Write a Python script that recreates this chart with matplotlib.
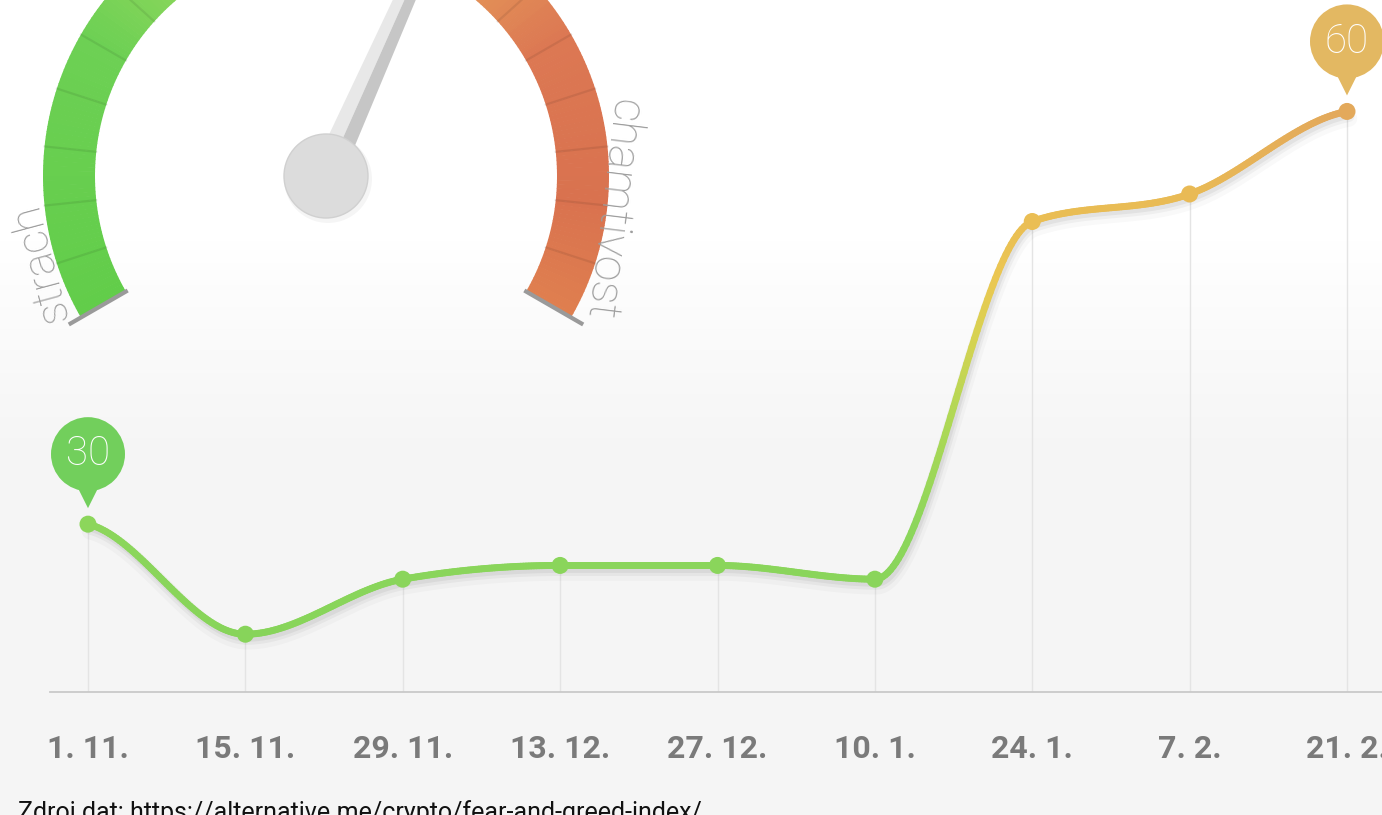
import numpy as np
import matplotlib
matplotlib.use("Agg")
import matplotlib.pyplot as plt
from matplotlib.collections import LineCollection, PolyCollection
from matplotlib.colors import LinearSegmentedColormap, Normalize
import matplotlib.transforms as mtransforms
from matplotlib.patches import Circle, Polygon

# ---------------- data ----------------
dates = ["1. 11.", "15. 11.", "29. 11.", "13. 12.", "27. 12.",
         "10. 1.", "24. 1.", "7. 2.", "21. 2."]
values = [30, 22, 26, 27, 27, 26, 52, 54, 60]
bubble_points = [0, 8]
gauge_left_label = "strach"
gauge_right_label = "chamtivost"
source_text = "Zdroj dat: https://alternative.me/crypto/fear-and-greed-index/"

# ---------------- figure ----------------
W, H = 1382, 815
fig = plt.figure(figsize=(W / 100, H / 100), dpi=100)

# background / decoration axes in pixel units
bg = fig.add_axes([0, 0, 1, 1], zorder=0)
bg.set_xlim(0, W)
bg.set_ylim(H, 0)
bg.axis("off")

rows = np.arange(H)
g = np.clip((rows - 240) / 220.0, 0, 1)
bg_cmap = LinearSegmentedColormap.from_list("bg", ["#ffffff", "#f5f5f5"])
bg.imshow(g[:, None], cmap=bg_cmap, vmin=0, vmax=1, extent=[0, W, H, 0],
          aspect="auto", zorder=0)

# ---------------- gauge ----------------
cx, cy = 326, 176
r_in, r_out = 231, 283
a_start, a_span = 210.0, 240.0
gauge_cmap = LinearSegmentedColormap.from_list(
    "gauge",
    [(0.0, "#62cd4a"), (0.25, "#6dd054"), (0.36, "#8fd75c"), (0.5, "#dcd25a"),
     (0.6, "#e8a45a"), (0.75, "#dc7853"), (0.9, "#d9724f"), (1.0, "#df7f4f")])

polys, cols = [], []
nseg = 240
for k in range(nseg):
    a0 = np.radians(a_start - a_span * k / nseg)
    a1 = np.radians(a_start - a_span * (k + 1.15) / nseg)
    aa = np.linspace(a0, a1, 4)
    outer = np.c_[cx + r_out * np.cos(aa), cy - r_out * np.sin(aa)]
    inner = np.c_[cx + r_in * np.cos(aa[::-1]), cy - r_in * np.sin(aa[::-1])]
    polys.append(np.vstack([outer, inner]))
    cols.append(gauge_cmap((k + 0.5) / nseg))
bg.add_collection(PolyCollection(polys, facecolors=cols, edgecolors="none", zorder=2))

for j in range(1, 20):
    a = np.radians(a_start - 12 * j)
    bg.plot([cx + r_in * np.cos(a), cx + r_out * np.cos(a)],
            [cy - r_in * np.sin(a), cy - r_out * np.sin(a)],
            color="black", alpha=0.08, lw=1.6, zorder=3)

for a_deg in (a_start, a_start - a_span):
    a = np.radians(a_deg)
    bg.plot([cx + (r_in - 2) * np.cos(a), cx + (r_out + 14) * np.cos(a)],
            [cy - (r_in - 2) * np.sin(a), cy - (r_out + 14) * np.sin(a)],
            color="#9a9a9a", lw=3, solid_capstyle="butt", zorder=3)

# needle (points at the latest value on a 0-100 scale)
na = np.radians(a_start - a_span * values[-1] / 100.0)
d = np.array([np.cos(na), -np.sin(na)])
nl = np.array([-np.sin(na), -np.cos(na)])
base = np.array([cx, cy])
tip = base + 300 * d
wb, wt = 15, 8
bg.add_patch(Polygon([base, base + wb * nl, tip + wt * nl, tip], closed=True,
                     fc="#e8e8e8", ec="none", zorder=4))
bg.add_patch(Polygon([base, base - wb * nl, tip - wt * nl, tip], closed=True,
                     fc="#c6c6c6", ec="none", zorder=4))
bg.add_patch(Circle((cx + 2, cy + 3), 44, fc="black", alpha=0.04, ec="none", zorder=4))
bg.add_patch(Circle((cx, cy), 42, fc="#dcdcdc", ec="#d0d0d0", lw=1, zorder=5))

bg.text(40, 262, gauge_left_label, rotation=105, rotation_mode="anchor",
        ha="center", va="center", fontsize=32, color="#9e9e9e",
        family="Roboto", fontweight="light", zorder=6)
bg.text(612, 210, gauge_right_label, rotation=-97, rotation_mode="anchor",
        ha="center", va="center", fontsize=33, color="#9e9e9e",
        family="Roboto", fontweight="light", zorder=6)

# ---------------- main chart ----------------
x_left_px, base_px = 50, 692
ax = fig.add_axes([x_left_px / W, (H - base_px) / H, (W - x_left_px) / W, base_px / H],
                  zorder=2)
ax.patch.set_alpha(0)
x = np.arange(len(values))
step_px = (1347 - 88) / (len(values) - 1)
ax.set_xlim(-(88 - x_left_px) / step_px, x[-1] + 35 / step_px)
y_bottom = 17.8
ax.set_ylim(y_bottom, 68.1)

for s in ("top", "left", "right"):
    ax.spines[s].set_visible(False)
ax.spines["bottom"].set_color("#c9c9c9")
ax.spines["bottom"].set_linewidth(1.3)
ax.set_yticks([])
ax.set_xticks(x, dates)
ax.tick_params(axis="x", length=0, pad=30, labelsize=23, labelcolor="#7a7a7a")
for lbl in ax.get_xticklabels():
    lbl.set_family("Roboto")
    lbl.set_fontweight("bold")

ax.vlines(x, y_bottom, values, color="#e4e4e4", lw=1, zorder=1)


def monotone_curve(xs, ys, n=60):
    xs = np.asarray(xs, float)
    ys = np.asarray(ys, float)
    h = np.diff(xs)
    s = np.diff(ys) / h
    t = np.zeros_like(ys)
    for i in range(1, len(ys) - 1):
        p = (s[i - 1] * h[i] + s[i] * h[i - 1]) / (h[i - 1] + h[i])
        t[i] = (np.sign(s[i - 1]) + np.sign(s[i])) * min(abs(s[i - 1]), abs(s[i]), 0.5 * abs(p))
    t[0] = 0.35 * s[0]
    t[-1] = 0.35 * s[-1]
    X, Y = [], []
    for i in range(len(xs) - 1):
        u = np.linspace(0, 1, n, endpoint=(i == len(xs) - 2))
        h00 = 2 * u**3 - 3 * u**2 + 1
        h10 = u**3 - 2 * u**2 + u
        h01 = -2 * u**3 + 3 * u**2
        h11 = u**3 - u**2
        X.append(xs[i] + u * h[i])
        Y.append(h00 * ys[i] + h10 * h[i] * t[i] + h01 * ys[i + 1] + h11 * h[i] * t[i + 1])
    return np.concatenate(X), np.concatenate(Y)


cx_, cy_ = monotone_curve(x, values)

line_cmap = LinearSegmentedColormap.from_list(
    "line",
    [(0.0, "#86d45a"), (0.25, "#8cd65b"), (0.45, "#b0d855"), (0.6, "#d8d252"),
     (0.7, "#ebc752"), (0.85, "#e9ba55"), (1.0, "#e3a95b")])
norm = Normalize(20, 60)

for off, lw, al in ((7, 12, 0.025), (5, 8, 0.04), (4, 5, 0.05)):
    sh_tr = mtransforms.offset_copy(ax.transData, fig=fig, x=2, y=-off, units="dots")
    ax.plot(cx_, cy_, color="black", lw=lw, alpha=al, transform=sh_tr,
            solid_capstyle="round", zorder=2, clip_on=False)

pts = np.c_[cx_, cy_]
segs = np.stack([pts[:-1], pts[1:]], axis=1)
mid = 0.5 * (cy_[:-1] + cy_[1:])
lc = LineCollection(segs, colors=line_cmap(norm(mid)), linewidths=5,
                    capstyle="round", zorder=4)
lc.set_clip_on(False)
ax.add_collection(lc)

ax.scatter(x, values, s=150, c=line_cmap(norm(np.array(values, float))),
           edgecolors="none", zorder=5, clip_on=False)

bubble_colors = {0: "#72cf5c", 8: "#e3b862"}
for i in bubble_points:
    tr = mtransforms.Affine2D() + mtransforms.ScaledTranslation(x[i], values[i], ax.transData)
    col = bubble_colors[i]
    ax.add_patch(Circle((0, 70), 37, transform=tr, fc=col, ec="none",
                        zorder=6, clip_on=False))
    ax.add_patch(Polygon([(-12, 40), (12, 40), (0, 16)], closed=True, transform=tr,
                         fc=col, ec="none", zorder=6, clip_on=False))
    ttr = mtransforms.offset_copy(ax.transData, fig=fig, x=0, y=70, units="dots")
    ax.text(x[i], values[i], str(values[i]), transform=ttr, ha="center", va="center",
            fontsize=29, color="white", family="Roboto", fontweight="light",
            zorder=7, clip_on=False)

fig.text(18 / W, 1 - 800 / H, source_text, ha="left", va="top", fontsize=18,
         color="#111111", family="Roboto")

fig.savefig("out.png", dpi=100)
